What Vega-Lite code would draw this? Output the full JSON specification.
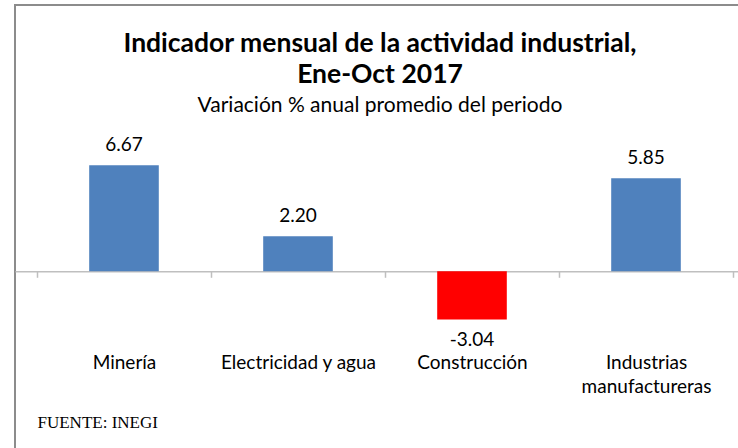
{
  "$schema": "https://vega.github.io/schema/vega-lite/v6.json",
  "autosize": {"type": "none"},
  "width": 740,
  "height": 457,
  "padding": {"left": 15, "top": 5, "right": -17, "bottom": -14},
  "background": "white",
  "config": {
    "view": {"stroke": "#8c8c8c", "strokeWidth": 2},
    "font": "Lato",
    "locale": {"number": {"decimal": ".", "thousands": ",", "grouping": [3], "currency": ["$", ""], "minus": "-"}}
  },
  "title": {
    "text": ["Indicador mensual de la actividad industrial,", "Ene-Oct 2017"],
    "subtitle": "Variación % anual promedio del periodo",
    "anchor": "middle",
    "frame": "group",
    "offset": -111,
    "dx": -5,
    "font": "Lato",
    "fontSize": 26.5,
    "fontWeight": "bold",
    "color": "#000000",
    "lineHeight": 31,
    "subtitleFont": "Lato",
    "subtitleFontSize": 21,
    "subtitleColor": "#000000",
    "subtitlePadding": 7
  },
  "data": {
    "values": [
      {"sector": "Minería", "valor": 6.67},
      {"sector": "Electricidad y agua", "valor": 2.20},
      {"sector": "Construcción", "valor": -3.04},
      {"sector": "Industrias manufactureras", "valor": 5.85}
    ]
  },
  "encoding": {
    "x": {
      "field": "sector",
      "type": "nominal",
      "sort": null,
      "scale": {"paddingInner": 0, "paddingOuter": 0.1264},
      "axis": {
        "orient": "bottom",
        "offset": -190.7,
        "domainColor": "#bfbfbf",
        "domainWidth": 1.5,
        "tickBand": "extent",
        "tickColor": "#bfbfbf",
        "tickWidth": 1.5,
        "tickSize": 6,
        "labelAngle": 0,
        "labelFont": "Lato",
        "labelFontSize": 19,
        "labelColor": "#000000",
        "labelPadding": 76,
        "labelLineHeight": 24,
        "labelOverlap": false,
        "labelBound": false,
        "labelFlush": false,
        "labelLimit": 250,
        "labelExpr": "datum.value == 'Industrias manufactureras' ? ['Industrias', 'manufactureras'] : datum.label",
        "title": "FUENTE: INEGI",
        "titleFont": "Liberation Serif",
        "titleFontSize": 17,
        "titleFontWeight": "normal",
        "titleColor": "#000000",
        "titleAnchor": "start",
        "titleAlign": "left",
        "titleBaseline": "middle",
        "titleX": 22,
        "titleY": 151
      }
    },
    "y": {
      "field": "valor",
      "type": "quantitative",
      "scale": {"domain": [-12, 16.75], "nice": false, "zero": false},
      "axis": null
    }
  },
  "layer": [
    {
      "mark": {"type": "bar", "width": {"band": 0.4}},
      "encoding": {
        "color": {
          "condition": {"test": "datum.valor < 0", "value": "#FF0000"},
          "value": "#4F81BD"
        }
      }
    },
    {
      "transform": [{"filter": "datum.valor >= 0"}],
      "mark": {"type": "text", "baseline": "middle", "dy": -20, "fontSize": 19, "font": "Lato", "color": "#000000"},
      "encoding": {"text": {"field": "valor", "type": "quantitative", "format": ".2f"}}
    },
    {
      "transform": [{"filter": "datum.valor < 0"}],
      "mark": {"type": "text", "baseline": "middle", "dy": 20, "fontSize": 19, "font": "Lato", "color": "#000000"},
      "encoding": {"text": {"field": "valor", "type": "quantitative", "format": ".2f"}}
    }
  ]
}
